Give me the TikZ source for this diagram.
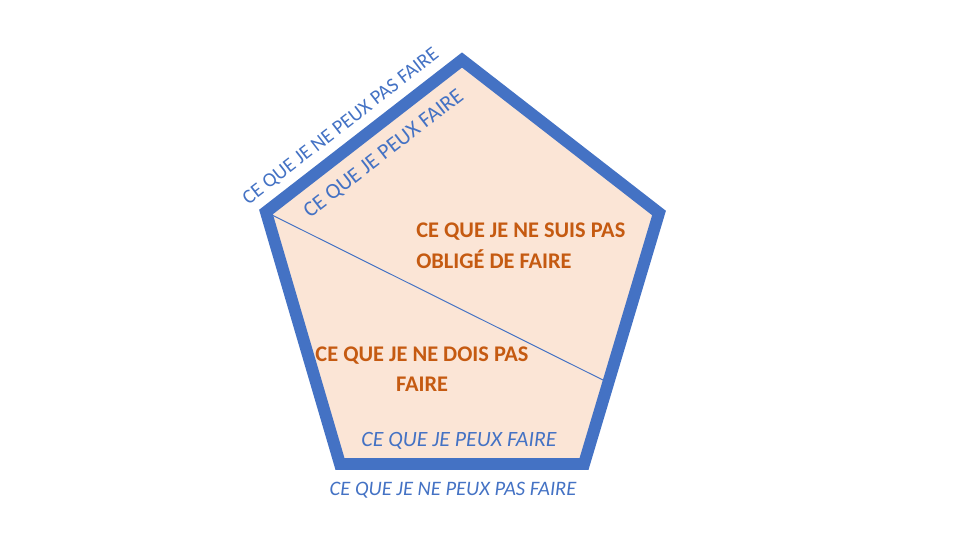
\documentclass[tikz,border=0pt]{standalone}
\usepackage{fontspec}
\setmainfont{Carlito}
\usepackage{tikz}
\usetikzlibrary{calc}
\definecolor{bordblue}{HTML}{4472C4}
\definecolor{peach}{HTML}{FBE5D6}
\definecolor{rust}{HTML}{C55A11}
\begin{document}
\begin{tikzpicture}[x=0.025cm, y=-0.025cm]

\tikzstyle{bluetxt}=[text=bordblue, font=\fontsize{15.5}{18}\selectfont, inner sep=0pt]
\tikzstyle{smalltxt}=[text=bordblue, font=\fontsize{14.3}{18}\selectfont, inner sep=0pt]
\tikzstyle{redtxt}=[text=rust, font=\bfseries\fontsize{15.9}{21.8}\selectfont, inner sep=0pt]
\tikzstyle{frame}=[draw=bordblue, line width=8.5pt, line join=miter]

\useasboundingbox (0,0) rectangle (980,551);

\coordinate (T)  at (462,60);
\coordinate (L)  at (266,212);
\coordinate (R)  at (659,213);
\coordinate (BR) at (584,464);
\coordinate (BL) at (340,464);

\fill [peach] (T) -- (R) -- (BR) -- (BL) -- (L) -- cycle;
\draw [bordblue, line width=0.7pt] (L) -- ($(R)!0.676!(BR)$);
\draw [frame] (T) -- (R) -- (BR) -- (BL) -- (L) -- cycle;

\node (outtop) [smalltxt, rotate=37.8] at (341,127) {CE QUE JE NE PEUX PAS FAIRE};
\node (intop)  [bluetxt, rotate=37.8] at (384,154) {CE QUE JE PEUX FAIRE};

\node (oblige) [redtxt, align=left, anchor=north west] at (416,223) {CE QUE JE NE SUIS PAS\\OBLIGÉ DE FAIRE};
\node (dois)   [redtxt, align=center] at (422,369) {CE QUE JE NE DOIS PAS\\FAIRE};

\node (inbot)  [bluetxt, font=\itshape\fontsize{15.5}{18}\selectfont] at (459,441) {CE QUE JE PEUX FAIRE};
\node (outbot) [smalltxt, font=\itshape\fontsize{14.6}{18}\selectfont] at (453,490) {CE QUE JE NE PEUX PAS FAIRE};

\end{tikzpicture}
\end{document}
